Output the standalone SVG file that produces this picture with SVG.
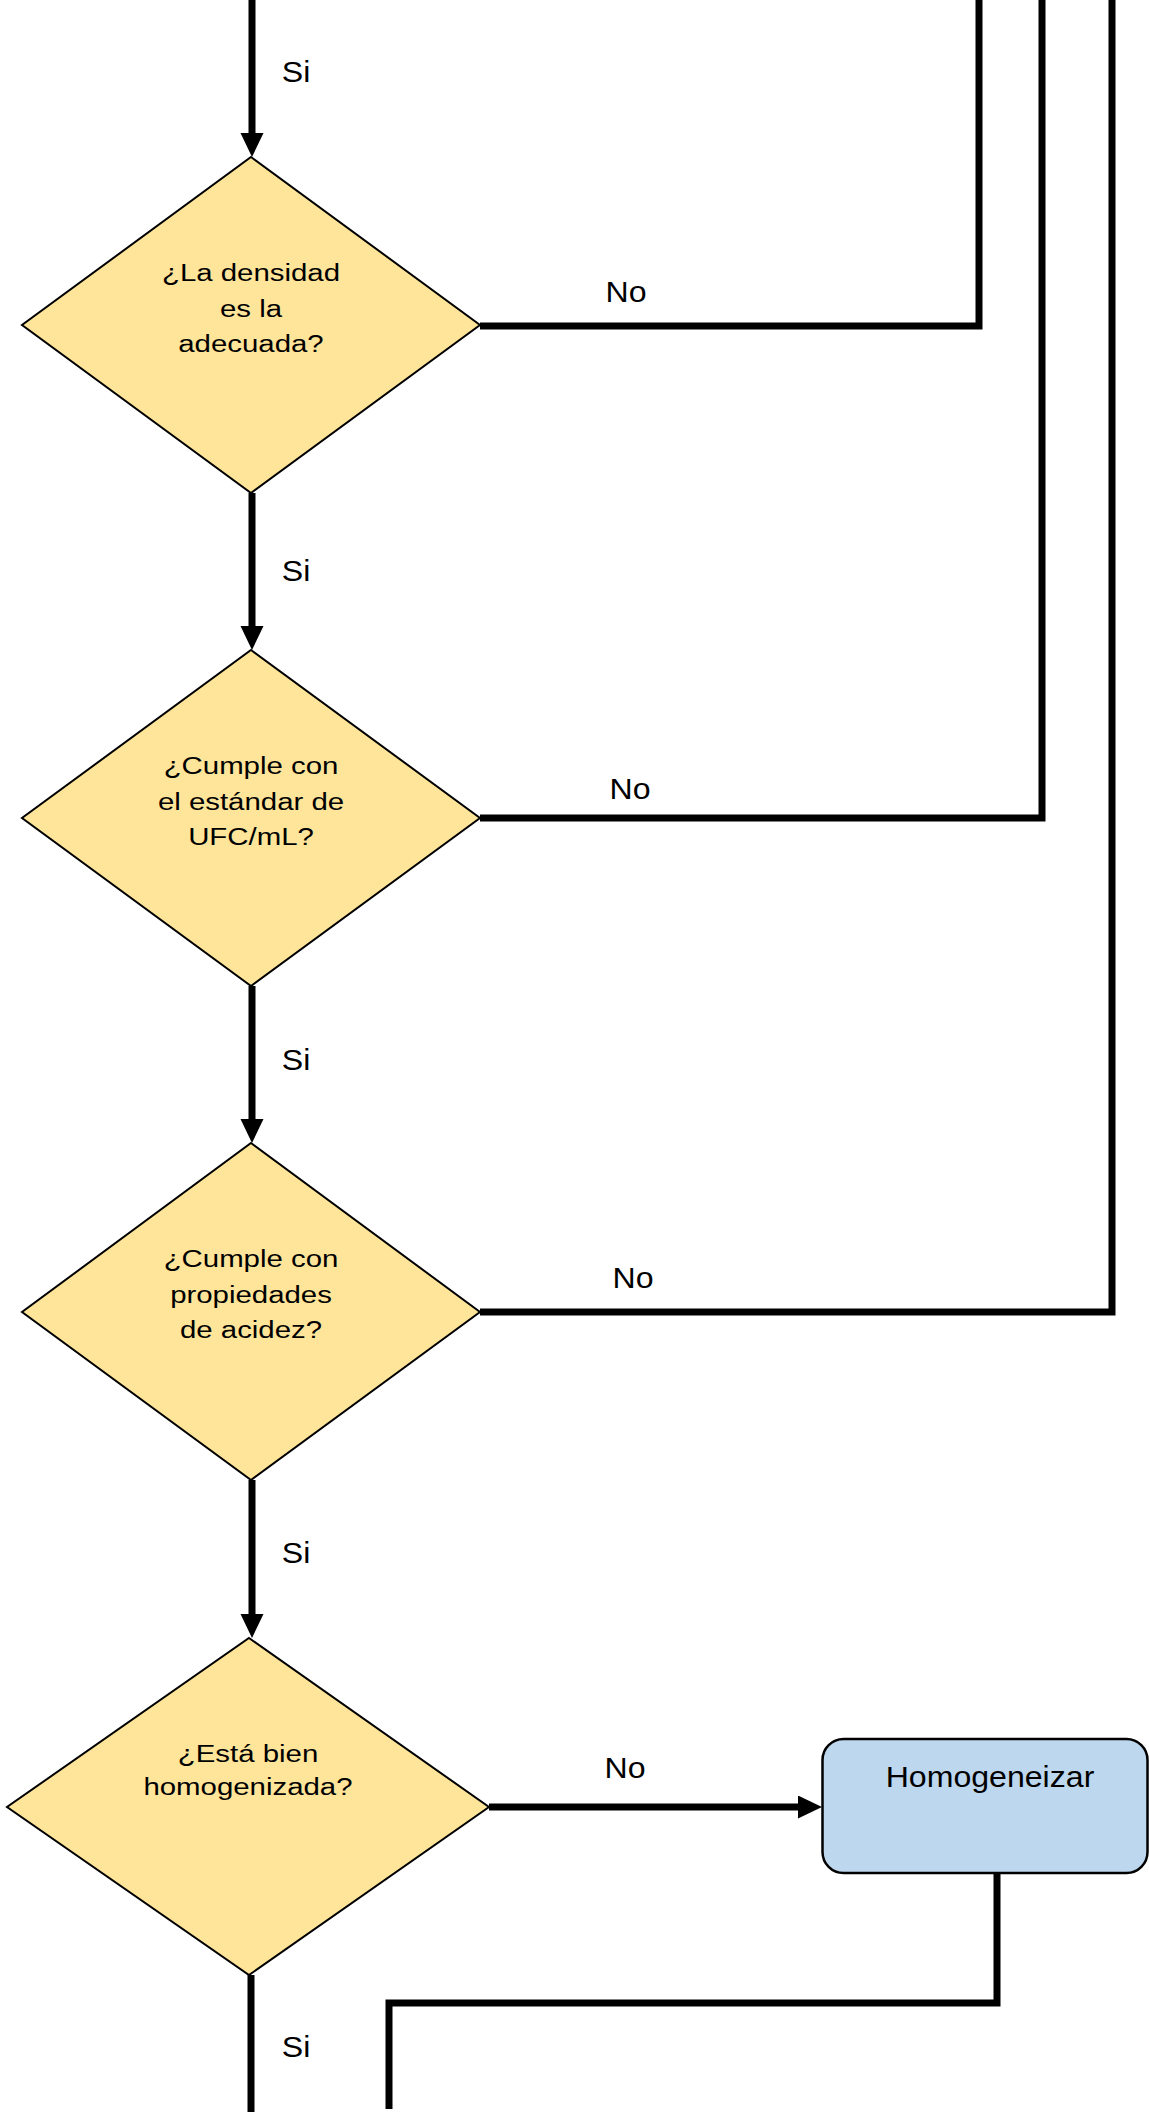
<svg xmlns="http://www.w3.org/2000/svg" width="1149" height="2112" viewBox="0 0 1149 2112">
<style>
.dec{fill:#FFE599;stroke:#000;stroke-width:2}
.proc{fill:#BDD7EE;stroke:#000;stroke-width:2.5}
.con{fill:none;stroke:#000;stroke-width:7;stroke-linejoin:miter}
.dt{font-family:"Liberation Sans",Arial,sans-serif;font-size:24.5px;fill:#000;text-anchor:middle}
.lb{font-family:"Liberation Sans",Arial,sans-serif;font-size:30px;fill:#000;text-anchor:middle}
</style>
<defs>
<marker id="ah" markerUnits="userSpaceOnUse" markerWidth="26" markerHeight="24" refX="0" refY="11.5" orient="auto" viewBox="0 0 26 24">
<path d="M0,0 L24,11.5 L0,23 Z" fill="#000"/>
</marker>
</defs>
<rect width="1149" height="2112" fill="#fff"/>
<g id="connectors">
<path class="con" d="M252,0 V133" marker-end="url(#ah)"/>
<path class="con" d="M252,493 V626" marker-end="url(#ah)"/>
<path class="con" d="M252,986 V1119" marker-end="url(#ah)"/>
<path class="con" d="M252,1480 V1614" marker-end="url(#ah)"/>
<path class="con" d="M251,1975 V2112"/>
<path class="con" d="M480,326 H979 V0"/>
<path class="con" d="M480,818 H1042 V0"/>
<path class="con" d="M480,1312 H1112 V0"/>
<path class="con" d="M489,1807 H798" marker-end="url(#ah)"/>
<path class="con" d="M997,1872 V2003 H389 V2109"/>
<g id="labels">
<text class="lb" transform="translate(296,82) scale(1.07,1)">Si</text>
<text class="lb" transform="translate(296,581) scale(1.07,1)">Si</text>
<text class="lb" transform="translate(296,1070) scale(1.07,1)">Si</text>
<text class="lb" transform="translate(296,1563) scale(1.07,1)">Si</text>
<text class="lb" transform="translate(296,2057) scale(1.07,1)">Si</text>
<text class="lb" transform="translate(626,302) scale(1.07,1)">No</text>
<text class="lb" transform="translate(630,799) scale(1.07,1)">No</text>
<text class="lb" transform="translate(633,1288) scale(1.07,1)">No</text>
<text class="lb" transform="translate(625,1778) scale(1.07,1)">No</text>
</g>
</g>
<g id="d1">
<polygon class="dec" points="251,157 480,325 251,493 22,325"/>
<text class="dt" transform="translate(251,281) scale(1.2,1)">¿La densidad</text>
<text class="dt" transform="translate(251,316.5) scale(1.2,1)">es la</text>
<text class="dt" transform="translate(251,352) scale(1.2,1)">adecuada?</text>
</g>
<g id="d2">
<polygon class="dec" points="251,650 480,818 251,986 22,818"/>
<text class="dt" transform="translate(251,774) scale(1.2,1)">¿Cumple con</text>
<text class="dt" transform="translate(251,809.5) scale(1.2,1)">el estándar de</text>
<text class="dt" transform="translate(251,845) scale(1.2,1)">UFC/mL?</text>
</g>
<g id="d3">
<polygon class="dec" points="251,1143 480,1312 251,1480 22,1312"/>
<text class="dt" transform="translate(251,1267) scale(1.2,1)">¿Cumple con</text>
<text class="dt" transform="translate(251,1303) scale(1.2,1)">propiedades</text>
<text class="dt" transform="translate(251,1338) scale(1.2,1)">de acidez?</text>
</g>
<g id="d4">
<polygon class="dec" points="249,1638 489,1807 249,1975 7,1807"/>
<text class="dt" transform="translate(248,1762) scale(1.2,1)">¿Está bien</text>
<text class="dt" transform="translate(248,1795) scale(1.2,1)">homogenizada?</text>
</g>
<g id="homogeneizar">
<rect class="proc" x="822.5" y="1739" width="325" height="134" rx="21" ry="21"/>
<text class="lb" transform="translate(990,1787) scale(1.07,1)">Homogeneizar</text>
</g>
</svg>
